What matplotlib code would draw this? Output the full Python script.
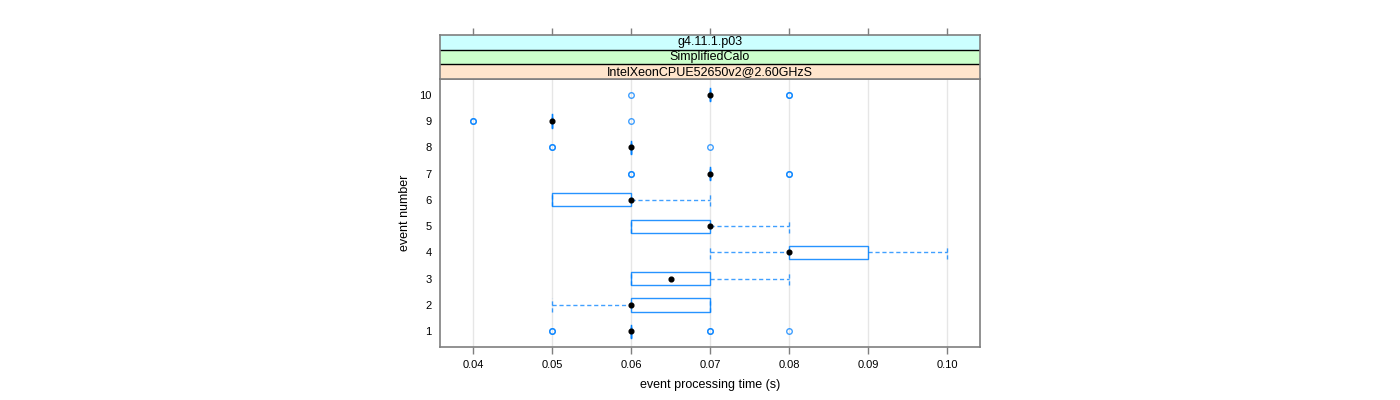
import matplotlib
matplotlib.use("Agg")
import matplotlib.pyplot as plt
from matplotlib.patches import Rectangle

plt.rcParams['font.family'] = ['Liberation Sans', 'DejaVu Sans']

# ---- data ----
events = [1, 2, 3, 4, 5, 6, 7, 8, 9, 10]
whisker_low = [0.06, 0.05, 0.06, 0.07, 0.06, 0.05, 0.07, 0.06, 0.05, 0.07]
q1 = [0.06, 0.06, 0.06, 0.08, 0.06, 0.05, 0.07, 0.06, 0.05, 0.07]
median = [0.06, 0.06, 0.065, 0.08, 0.07, 0.06, 0.07, 0.06, 0.05, 0.07]
q3 = [0.06, 0.07, 0.07, 0.09, 0.07, 0.06, 0.07, 0.06, 0.05, 0.07]
whisker_high = [0.06, 0.07, 0.08, 0.10, 0.08, 0.07, 0.07, 0.06, 0.05, 0.07]
outliers = [
    [0.05, 0.05, 0.07, 0.07, 0.08],
    [],
    [],
    [],
    [],
    [],
    [0.06, 0.06, 0.08, 0.08],
    [0.05, 0.05, 0.07],
    [0.04, 0.04, 0.06],
    [0.06, 0.08, 0.08],
]
x_ticks = [0.04, 0.05, 0.06, 0.07, 0.08, 0.09, 0.10]
x_tick_labels = ["0.04", "0.05", "0.06", "0.07", "0.08", "0.09", "0.10"]
strip_labels = ["g4.11.1.p03", "SimplifiedCalo", "IntelXeonCPUE52650v2@2.60GHzS"]
strip_colors = ["#ccffff", "#ccffcc", "#ffe5cc"]
xlabel = "event processing time (s)"
ylabel = "event number"

blue = "#0080ff"
frame_col = "#7f7f7f"

W, H = 1400, 400
fig = plt.figure(figsize=(W / 100, H / 100), dpi=100)

left, right, top, bottom = 440, 980, 79, 347
ax = fig.add_axes([left / W, 1 - bottom / H, (right - left) / W, (bottom - top) / H])
xlim = (0.04 - 33 / 79 * 0.01, 0.10 + 33 / 79 * 0.01)
ax.set_xlim(*xlim)
ax.set_ylim(0.4, 10.6)

for xt in x_ticks:
    ax.axvline(xt, color="#e6e6e6", lw=1, zorder=0)

bh = 0.5
for i, ev in enumerate(events):
    # whiskers (dashed)
    ax.plot([whisker_low[i], q1[i]], [ev, ev], color=blue, lw=1, ls=(0, (3, 2)), zorder=2, alpha=0.75)
    ax.plot([q3[i], whisker_high[i]], [ev, ev], color=blue, lw=1, ls=(0, (3, 2)), zorder=2, alpha=0.75)
    # caps
    for wv in (whisker_low[i], whisker_high[i]):
        ax.plot([wv, wv], [ev - bh / 2, ev + bh / 2], color=blue, lw=1, ls=(0, (3, 2)), zorder=2, alpha=0.75)
    # box
    ax.add_patch(Rectangle((q1[i], ev - bh / 2), q3[i] - q1[i], bh, fill=False,
                           edgecolor=blue, lw=1, zorder=3, alpha=0.85))
    if q3[i] == q1[i]:
        ax.plot([q1[i], q1[i]], [ev - bh / 2, ev + bh / 2], color=blue, lw=1, zorder=3)
    # outliers
    if outliers[i]:
        ax.plot(outliers[i], [ev] * len(outliers[i]), ls="none", marker="o", ms=4,
                mfc="none", mec=blue, mew=1, alpha=0.75, zorder=4)
    # median dot
    ax.plot([median[i]], [ev], marker="o", ms=3.4, color="black", zorder=5)

ax.set_xticks(x_ticks)
ax.set_xticklabels(x_tick_labels, fontsize=8)
ax.set_yticks(events)
ax.set_yticklabels([str(e) for e in events], fontsize=8)
ax.tick_params(axis="y", length=0, pad=6)
ax.tick_params(axis="x", length=5, width=1, color=frame_col, pad=4, direction="out")
for s in ax.spines.values():
    s.set_color(frame_col)
    s.set_linewidth(1.2)
ax.set_xlabel(xlabel, fontsize=9, labelpad=7)
ax.set_ylabel(ylabel, fontsize=9, labelpad=6)

# strips
st_top = 35
sax = fig.add_axes([left / W, 1 - top / H, (right - left) / W, (top - st_top) / H])
sax.set_xlim(*xlim)
sax.set_ylim(0, 3)
for k, (lab, col) in enumerate(zip(strip_labels, strip_colors)):
    y0 = 2 - k
    sax.add_patch(Rectangle((xlim[0], y0), xlim[1] - xlim[0], 1, facecolor=col,
                            edgecolor="none", zorder=1))
    sax.text((xlim[0] + xlim[1]) / 2, y0 + 0.5, lab, ha="center", va="center", fontsize=9, zorder=3)
    if k > 0:
        sax.axhline(y0 + 1, color="black", lw=1, zorder=2)
sax.set_xticks(x_ticks)
sax.set_yticks([])
sax.tick_params(axis="x", bottom=False, labelbottom=False, top=True, labeltop=False,
                length=5, width=1, color=frame_col, direction="out")
for s in sax.spines.values():
    s.set_color(frame_col)
    s.set_linewidth(1.2)

fig.savefig("out.png", dpi=100)
